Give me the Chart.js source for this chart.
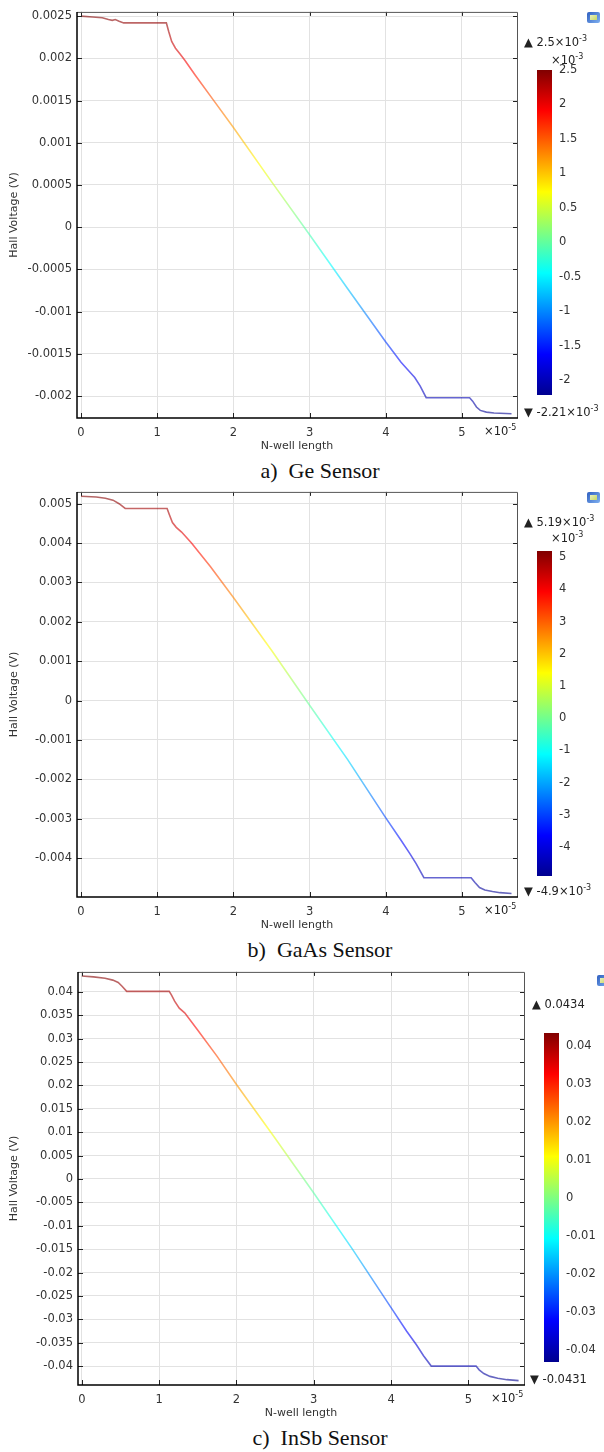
<!DOCTYPE html>
<html>
<head>
<meta charset="utf-8">
<script src="https://cdn.jsdelivr.net/npm/chart.js@4.4.1/dist/chart.umd.min.js"></script>
<style>
  html, body { margin: 0; padding: 0; background: #fff; }
  #page { position: relative; width: 604px; height: 1452px; overflow: hidden; font-family: "DejaVu Sans", sans-serif; }
  canvas { position: absolute; }
  .lbl { position: absolute; font-size: 11.5px; line-height: 14px; color: #222; white-space: nowrap; }
  .lbl sup { font-size: 8px; position: relative; top: -5px; vertical-align: baseline; line-height: 0; }
  .cap { position: absolute; font-family: "Liberation Serif", "Times New Roman", serif; font-size: 22px; line-height: 24px; color: #111; white-space: pre; transform: translateX(-50%); }
  .icon { position: absolute; width: 13px; height: 11px; border-radius: 2px; background: linear-gradient(135deg, #2f5fc0, #7fb0f0); }
  .icon::after { content: ""; position: absolute; left: 3px; top: 3px; width: 7px; height: 5px; background: linear-gradient(135deg, #e8f0c0, #c8d860); }
</style>
</head>
<body>
<div id="page"></div>
<script>
// x positions along the N-well, in units of 1e-5 (axis is labelled x10^-5)
const lengthTicks = [0, 1, 2, 3, 4, 5];

// a) Ge sensor
const geLength = [0, 0.15, 0.28, 0.36, 0.41, 0.45, 0.5, 0.56, 1.12, 1.15, 1.19, 1.24, 1.3, 1.36, 1.5, 1.75, 2.0, 2.5, 3.0, 3.5, 4.0, 4.2, 4.3, 4.38, 4.45, 4.53, 5.1, 5.14, 5.19, 5.24, 5.32, 5.42, 5.65];
const geHall = [0.00250, 0.00249, 0.00248, 0.00246, 0.00245, 0.00246, 0.00244, 0.00242, 0.00242, 0.00232, 0.00220, 0.00212, 0.00205, 0.00198, 0.00180, 0.00149, 0.00118, 0.00054, -0.00009, -0.00073, -0.00136, -0.00160, -0.00170, -0.00178, -0.00188, -0.00202, -0.00202, -0.00206, -0.00213, -0.00217, -0.00219, -0.00220, -0.00221];
const geVoltTicks = [0.0025, 0.002, 0.0015, 0.001, 0.0005, 0, -0.0005, -0.001, -0.0015, -0.002];
const geBarTicks = [2.5, 2, 1.5, 1, 0.5, 0, -0.5, -1, -1.5, -2];
const geRange = [-2.21, 2.5];   // x10^-3

// b) GaAs sensor
const gaasLength = [0, 0.2, 0.32, 0.42, 0.5, 0.58, 1.13, 1.16, 1.2, 1.25, 1.32, 1.45, 1.7, 2.0, 2.5, 3.0, 3.5, 4.0, 4.2, 4.32, 4.4, 4.5, 5.12, 5.17, 5.23, 5.3, 5.4, 5.5, 5.65];
const gaasHall = [0.00519, 0.00517, 0.00514, 0.00509, 0.00500, 0.00488, 0.00488, 0.00472, 0.00452, 0.00440, 0.00428, 0.00400, 0.00340, 0.00262, 0.00128, -0.00012, -0.00150, -0.00298, -0.00355, -0.00390, -0.00415, -0.00450, -0.00450, -0.00462, -0.00475, -0.00481, -0.00485, -0.00488, -0.00490];
const gaasVoltTicks = [0.005, 0.004, 0.003, 0.002, 0.001, 0, -0.001, -0.002, -0.003, -0.004];
const gaasBarTicks = [5, 4, 3, 2, 1, 0, -1, -2, -3, -4];
const gaasRange = [-4.9, 5.19];  // x10^-3

// c) InSb sensor
const insbLength = [0, 0.15, 0.3, 0.4, 0.47, 0.52, 0.58, 1.13, 1.16, 1.2, 1.26, 1.33, 1.5, 1.75, 2.0, 2.5, 3.0, 3.5, 4.0, 4.2, 4.33, 4.42, 4.52, 5.1, 5.14, 5.2, 5.28, 5.38, 5.5, 5.65];
const insbHall = [0.0434, 0.0432, 0.0429, 0.0425, 0.0420, 0.0412, 0.0401, 0.0401, 0.0393, 0.0380, 0.0365, 0.0355, 0.0318, 0.0262, 0.0202, 0.0087, -0.0030, -0.0150, -0.0275, -0.0325, -0.0355, -0.0378, -0.0400, -0.0400, -0.0408, -0.0416, -0.0422, -0.0426, -0.0429, -0.0431];
const insbVoltTicks = [0.04, 0.035, 0.03, 0.025, 0.02, 0.015, 0.01, 0.005, 0, -0.005, -0.01, -0.015, -0.02, -0.025, -0.03, -0.035, -0.04];
const insbBarTicks = [0.04, 0.03, 0.02, 0.01, 0, -0.01, -0.02, -0.03, -0.04];
const insbRange = [-0.0431, 0.0434];

const panels = [
  { length: geLength, hall: geHall, voltTicks: geVoltTicks, yMin: -0.00226, yMax: 0.00255, xMin: -0.0525, xMax: 5.722,
    plot: { left: 77, top: 10, right: 517, bottom: 418 }, colour: [geRange[0] * 1e-3, geRange[1] * 1e-3],
    bar: { left: 537, top: 70, right: 552, bottom: 395, range: geRange, ticks: geBarTicks },
    caption: 'a)  Ge Sensor', maxText: '\u25B2 2.5\u00D710<sup>-3</sup>', minText: '\u25BC -2.21\u00D710<sup>-3</sup>',
    maxPos: [524, 42], minPos: [524, 412], unit: [551, 60], icon: [587, 12] },
  { length: gaasLength, hall: gaasHall, voltTicks: gaasVoltTicks, yMin: -0.00499, yMax: 0.0053, xMin: -0.0525, xMax: 5.722,
    plot: { left: 77, top: 490, right: 517, bottom: 897 }, colour: [gaasRange[0] * 1e-3, gaasRange[1] * 1e-3],
    bar: { left: 537, top: 551, right: 552, bottom: 876, range: gaasRange, ticks: gaasBarTicks },
    caption: 'b)  GaAs Sensor', maxText: '\u25B2 5.19\u00D710<sup>-3</sup>', minText: '\u25BC -4.9\u00D710<sup>-3</sup>',
    maxPos: [524, 522], minPos: [524, 891], unit: [551, 538], icon: [587, 492] },
  { length: insbLength, hall: insbHall, voltTicks: insbVoltTicks, yMin: -0.04404, yMax: 0.04426, xMin: -0.05, xMax: 5.72,
    plot: { left: 78, top: 970, right: 524, bottom: 1385 }, colour: insbRange,
    bar: { left: 544, top: 1033, right: 559, bottom: 1362, range: insbRange, ticks: insbBarTicks },
    caption: 'c)  InSb Sensor', maxText: '\u25B2 0.0434', minText: '\u25BC -0.0431',
    maxPos: [532, 1004], minPos: [530, 1379], unit: null, icon: [597, 975] }
];

Chart.defaults.font.family = '"DejaVu Sans", sans-serif';

const jet = [[0, '0,0,143'], [0.125, '0,0,255'], [0.375, '0,255,255'], [0.625, '255,255,0'], [0.875, '255,0,0'], [1, '128,0,0']];
function jetGradient(ctx, yTop, yBottom, alpha) {
  const g = ctx.createLinearGradient(0, yTop, 0, yBottom);
  jet.forEach(([f, c]) => g.addColorStop(1 - f, 'rgba(' + c + ',' + alpha + ')'));
  return g;
}
const fmt = v => String(parseFloat(Number(v).toPrecision(6)));
const TICK = '#333';

const framePlugin = {
  id: 'frame',
  afterDraw(chart) {
    const { ctx, chartArea: a, scales: { x, y } } = chart;
    ctx.save();
    ctx.strokeStyle = '#222';
    ctx.lineWidth = 1;
    ctx.beginPath();
    x.ticks.forEach(t => {
      const px = Math.round(x.getPixelForValue(t.value)) + 0.5;
      ctx.moveTo(px, a.bottom); ctx.lineTo(px, a.bottom - 5);
      ctx.moveTo(px, a.top); ctx.lineTo(px, a.top + 4);
    });
    y.ticks.forEach(t => {
      const py = Math.round(y.getPixelForValue(t.value)) + 0.5;
      ctx.moveTo(a.left, py); ctx.lineTo(a.left + 5, py);
      ctx.moveTo(a.right, py); ctx.lineTo(a.right - 4, py);
    });
    ctx.stroke();
    ctx.strokeStyle = '#555';
    ctx.beginPath();
    ctx.moveTo(a.left, a.top + 0.5); ctx.lineTo(a.right + 0.5, a.top + 0.5); ctx.lineTo(a.right + 0.5, a.bottom);
    ctx.stroke();
    ctx.strokeStyle = '#000';
    ctx.lineWidth = 1.5;
    ctx.beginPath();
    ctx.moveTo(a.left, a.top); ctx.lineTo(a.left, a.bottom); ctx.lineTo(a.right + 1, a.bottom);
    ctx.stroke();
    ctx.restore();
  }
};

const page = document.getElementById('page');
function addCanvas(left, top, w, h) {
  const cv = document.createElement('canvas');
  cv.width = w; cv.height = h;
  cv.style.left = left + 'px'; cv.style.top = top + 'px';
  cv.style.width = w + 'px'; cv.style.height = h + 'px';
  page.appendChild(cv);
  return cv;
}
function addLabel(cls, html, x, cy) {
  const d = document.createElement('div');
  d.className = cls;
  d.innerHTML = html;
  d.style.left = x + 'px';
  d.style.top = (cy - (cls === 'cap' ? 12 : 7)) + 'px';
  page.appendChild(d);
}

panels.forEach(p => {
  const top = p.plot.top - 10;
  const W = p.plot.right + 13;
  const H = p.plot.bottom - top + 40;

  new Chart(addCanvas(0, top, W, H), {
    type: 'line',
    data: {
      datasets: [{
        data: p.length.map((x, i) => ({ x: x, y: p.hall[i] })),
        borderColor: ctx => {
          const c = ctx.chart;
          if (!c.chartArea) return 'transparent';
          const ys = c.scales.y;
          return jetGradient(c.ctx, ys.getPixelForValue(p.colour[1]), ys.getPixelForValue(p.colour[0]), 0.6);
        },
        borderWidth: 1.6,
        pointRadius: 0,
        tension: 0,
        fill: false
      }]
    },
    options: {
      responsive: false,
      animation: false,
      events: [],
      layout: { padding: { top: 10, right: W - p.plot.right, left: 0, bottom: 0 } },
      plugins: { legend: { display: false }, tooltip: { enabled: false } },
      scales: {
        x: {
          type: 'linear', min: p.xMin, max: p.xMax,
          afterBuildTicks: s => { s.ticks = lengthTicks.map(v => ({ value: v })); },
          afterFit: s => { s.height = 40; },
          grid: { color: '#e2e2e2', drawTicks: false },
          border: { display: false },
          ticks: { padding: 8, color: TICK, font: { size: 11.5 }, autoSkip: false, maxRotation: 0, callback: v => fmt(v) },
          title: { display: true, text: 'N-well length', color: TICK, font: { size: 11 }, padding: { top: 0, bottom: 5 } }
        },
        y: {
          type: 'linear', min: p.yMin, max: p.yMax,
          afterBuildTicks: s => { s.ticks = p.voltTicks.map(v => ({ value: v })); },
          afterFit: s => { s.width = p.plot.left; },
          grid: { color: '#e2e2e2', drawTicks: false },
          border: { display: false },
          ticks: { padding: 5, color: TICK, font: { size: 11.5 }, autoSkip: false, callback: v => fmt(v) },
          title: { display: true, text: 'Hall Voltage (V)', color: TICK, font: { size: 11 }, padding: { top: 8, bottom: 0 } }
        }
      }
    },
    plugins: [framePlugin]
  });

  // colour legend
  const b = p.bar;
  const cl = b.left - 17, ct = b.top - 20, cw = 604 - cl, ch = b.bottom - b.top + 40;
  new Chart(addCanvas(cl, ct, cw, ch), {
    type: 'bar',
    data: {
      labels: [''],
      datasets: [{
        data: [[b.range[0], b.range[1]]],
        backgroundColor: ctx => {
          const c = ctx.chart;
          if (!c.chartArea) return 'transparent';
          return jetGradient(c.ctx, c.chartArea.top, c.chartArea.bottom, 1);
        },
        barPercentage: 1,
        categoryPercentage: 1,
        borderWidth: 0
      }]
    },
    options: {
      responsive: false,
      animation: false,
      events: [],
      layout: { padding: { top: 20, bottom: 20, left: 17, right: 0 } },
      plugins: { legend: { display: false }, tooltip: { enabled: false } },
      scales: {
        x: { display: false },
        y: {
          position: 'right', min: b.range[0], max: b.range[1],
          afterBuildTicks: s => { s.ticks = b.ticks.map(v => ({ value: v })); },
          afterFit: s => { s.width = cw - (b.right - cl); },
          grid: { display: false, drawTicks: false },
          border: { display: false },
          ticks: { padding: 7, color: TICK, font: { size: 11.5 }, autoSkip: false, callback: v => fmt(v) }
        }
      }
    }
  });

  addLabel('lbl', p.maxText, p.maxPos[0], p.maxPos[1]);
  addLabel('lbl', p.minText, p.minPos[0], p.minPos[1]);
  if (p.unit) addLabel('lbl', '\u00D710<sup>-3</sup>', p.unit[0], p.unit[1]);
  addLabel('lbl', '\u00D710<sup>-5</sup>', p.plot.right - 33, p.plot.bottom + 13);
  addLabel('cap', p.caption, 320, p.plot.bottom + 53);
  const ic = document.createElement('div');
  ic.className = 'icon';
  ic.style.left = p.icon[0] + 'px';
  ic.style.top = p.icon[1] + 'px';
  page.appendChild(ic);
});
</script>
</body>
</html>
